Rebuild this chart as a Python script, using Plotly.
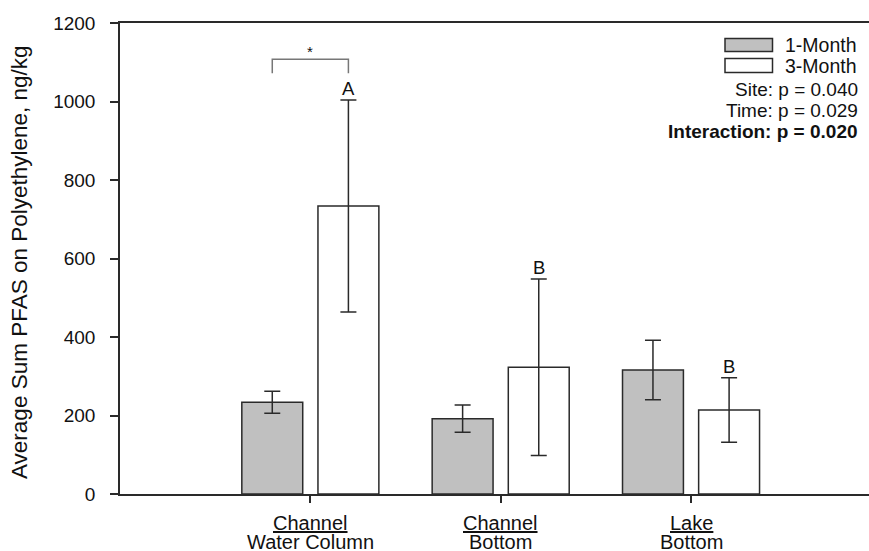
import plotly.graph_objects as go

# ---- data ----
cat_top = ["Channel", "Channel", "Lake"]
cat_bottom = ["Water Column", "Bottom", "Bottom"]
one_month = [234, 192, 316]
one_month_err = [28, 34.5, 76]
three_month = [734, 323, 214]
three_month_err = [270, 225, 82]
sig_letters = ["A", "B", "B"]
series_names = ["1-Month", "3-Month"]
stats_lines = ["Site: p = 0.040", "Time: p = 0.029", "<b>Interaction: p = 0.020</b>"]
y_ticks = [0, 200, 400, 600, 800, 1000, 1200]
y_title = "Average Sum PFAS on Polyethylene, ng/kg"

FONT = "Liberation Sans, Arial, sans-serif"
EDGE = "#2a2a2a"
GRAY = "#c0c0c0"
TXT = "#111111"

W, H = 869, 551
ML, MR, MT, MB = 120, 0, 23, 57
PW, PH = W - ML - MR, H - MT - MB


def px_x(px):
    return (px - ML) / PW


def px_y(py):
    return 1 - (py - MT) / PH


xs = list(range(len(cat_top)))

fig = go.Figure()
fig.add_trace(go.Bar(
    x=xs, y=one_month, name=series_names[0], width=0.32, offset=-0.36,
    marker=dict(color=GRAY, line=dict(color=EDGE, width=1.5)),
    error_y=dict(type="data", array=one_month_err, visible=True,
                 color=EDGE, thickness=1.5, width=8),
    showlegend=False,
))
fig.add_trace(go.Bar(
    x=xs, y=three_month, name=series_names[1], width=0.32, offset=0.04,
    marker=dict(color="white", line=dict(color=EDGE, width=1.5)),
    error_y=dict(type="data", array=three_month_err, visible=True,
                 color=EDGE, thickness=1.5, width=8),
    showlegend=False,
))

annotations = []
shapes = []

# category labels (two lines, first underlined)
for i, (a, b) in enumerate(zip(cat_top, cat_bottom)):
    annotations.append(dict(x=i, y=px_y(523), xref="x", yref="paper", text=f"<u>{a}</u>",
                            showarrow=False, yanchor="middle", borderpad=0,
                            font=dict(family=FONT, size=20, color=TXT)))
    annotations.append(dict(x=i, y=px_y(542), xref="x", yref="paper", text=b,
                            showarrow=False, yanchor="middle", borderpad=0,
                            font=dict(family=FONT, size=20, color=TXT)))

# y-axis title
annotations.append(dict(x=px_x(19), y=px_y(262), xref="paper", yref="paper", text=y_title,
                        textangle=-90, showarrow=False, xanchor="center", yanchor="middle",
                        font=dict(family=FONT, size=22.5, color=TXT)))

# significance letters above the 3-month whiskers
for i, (m, e, L) in enumerate(zip(three_month, three_month_err, sig_letters)):
    annotations.append(dict(x=i + 0.2, y=m + e, xref="x", yref="y", text=L,
                            showarrow=False, yanchor="middle", yshift=11,
                            font=dict(family=FONT, size=18.5, color=TXT)))

# comparison bracket over first group
by_top = 1107.5
by_bot = 1072
bracket_color = "#777777"
shapes.append(dict(type="path", xref="x", yref="y",
                   path=f"M -0.2 {by_bot} L -0.2 {by_top} L 0.2 {by_top} L 0.2 {by_bot}",
                   line=dict(color=bracket_color, width=1.5)))
annotations.append(dict(x=0, y=by_top, xref="x", yref="y", text="*",
                        showarrow=False, yanchor="bottom", yshift=-3,
                        font=dict(family=FONT, size=15, color=TXT)))

# legend keys
key_fill = [GRAY, "white"]
key_rows = [(38.5, 51.5), (58.5, 72.5)]
for (y0, y1), fill, name in zip(key_rows, key_fill, series_names):
    shapes.append(dict(type="rect", xref="paper", yref="paper",
                       x0=px_x(725), x1=px_x(772.5), y0=px_y(y1), y1=px_y(y0),
                       fillcolor=fill, line=dict(color=EDGE, width=1.5)))
    annotations.append(dict(x=px_x(783), y=px_y((y0 + y1) / 2), xref="paper", yref="paper",
                            text=name, showarrow=False, xanchor="left", yanchor="middle",
                            font=dict(family=FONT, size=19.5, color=TXT)))

for yc, t in zip([89.5, 110.5, 132], stats_lines):
    annotations.append(dict(x=px_x(860), y=px_y(yc), xref="paper", yref="paper",
                            text=t, showarrow=False, xanchor="right", yanchor="middle",
                            font=dict(family=FONT, size=19, color=TXT)))

fig.update_layout(
    width=W, height=H,
    margin=dict(l=ML, r=MR, t=MT, b=MB),
    paper_bgcolor="white", plot_bgcolor="white",
    barmode="overlay",
    showlegend=False,
    font=dict(family=FONT, color=TXT),
    xaxis=dict(range=[-1.0, 2.935], tickmode="array", tickvals=xs, showticklabels=False,
               automargin=False,
               showgrid=False, zeroline=False, showline=True, linecolor=EDGE, linewidth=1.5,
               mirror=True, ticks="outside", ticklen=7, tickwidth=1.5, tickcolor=EDGE),
    yaxis=dict(range=[0, 1200], tickmode="array", tickvals=y_ticks, automargin=False,
               showgrid=False, zeroline=False, showline=True, linecolor=EDGE, linewidth=1.5,
               ticks="outside", ticklen=8, tickwidth=1.5, tickcolor=EDGE,
               tickfont=dict(family=FONT, size=19, color=TXT), ticklabelstandoff=11),
    annotations=annotations,
    shapes=shapes,
)

fig.write_html("out.html", config={"displayModeBar": False},
               post_script="document.body.style.margin='0';")
